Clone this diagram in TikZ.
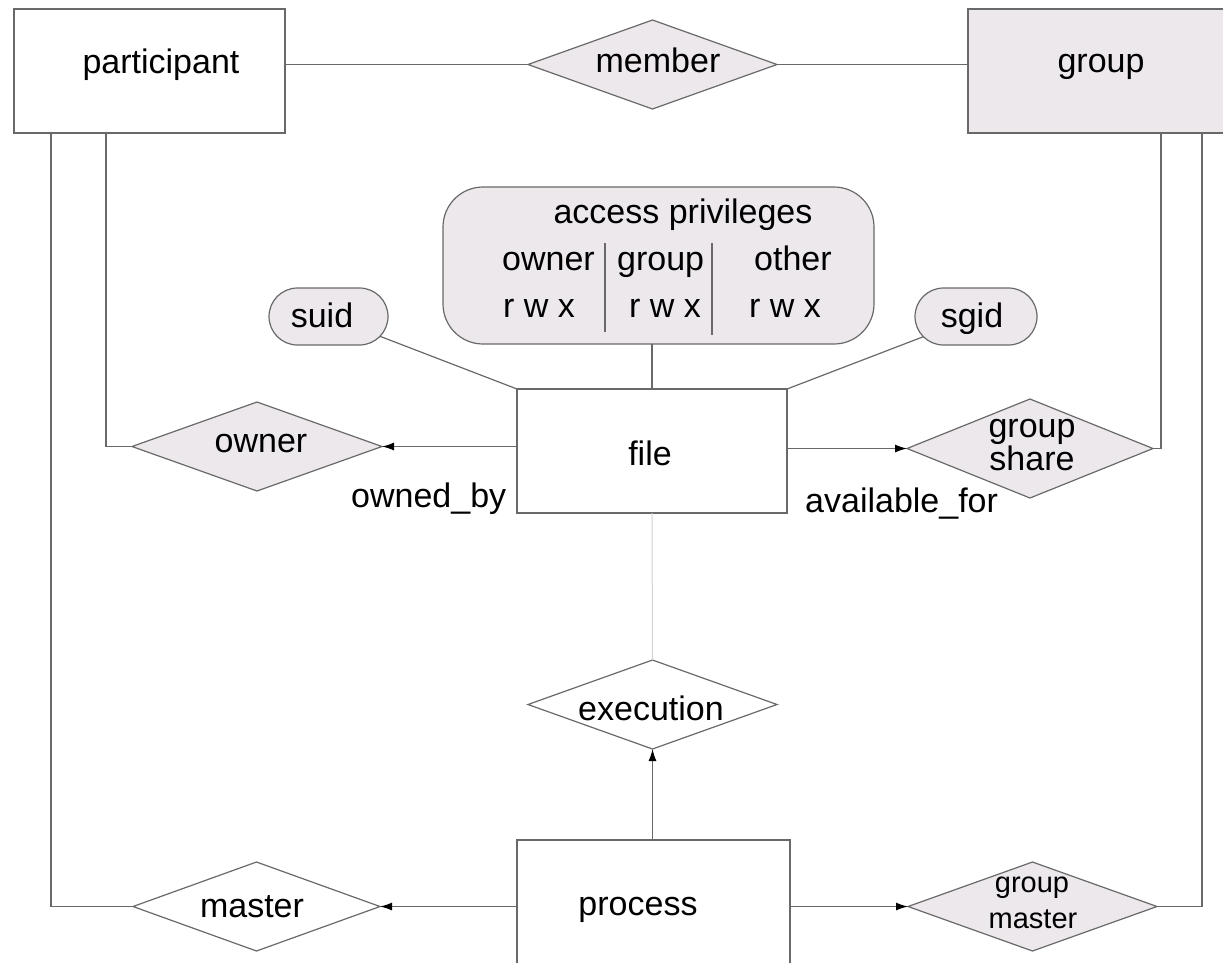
\documentclass[tikz,border=0pt]{standalone}
\usepackage{fontspec}
\setmainfont{Liberation Sans}
\usetikzlibrary{shapes.geometric,shapes.misc,arrows.meta}
\definecolor{edge}{RGB}{105,105,105}
\definecolor{shade}{RGB}{236,232,236}
\definecolor{faint}{RGB}{210,210,210}

\begin{document}
\begin{tikzpicture}[x=1pt,y=-1pt,
  frame/.style={draw=edge,line width=1.2pt,inner sep=0pt,outer sep=0pt},
  entity/.style={frame,rectangle,minimum width=#1},
  rel/.style={frame,diamond,minimum width=249pt,minimum height=89pt},
  pill/.style={frame,rounded rectangle,fill=shade,minimum height=57pt,minimum width=#1},
  txt/.style={inner sep=0pt,anchor=base,font=\fontsize{34}{34}\selectfont},
  small/.style={inner sep=0pt,anchor=base,font=\fontsize{29}{29}\selectfont},
  link/.style={draw=edge,line width=1.2pt},
  arr/.style={link,-{Latex[length=12pt,width=8pt,color=black]}},
  sep/.style={draw=edge,line width=1.2pt}
]
\useasboundingbox (0,0) rectangle (1223,962);

% entities
\node[entity=271pt,minimum height=124pt] (participant) at (149.5,71) {};
\node[entity=262pt,minimum height=124pt,fill=shade] (group) at (1099,71) {};
\node[entity=270pt,minimum height=124pt] (file) at (652,451) {};
\node[entity=273pt,minimum height=140pt] (process) at (653.5,910) {};

% relationships
\node[rel,fill=shade] (member) at (652.5,64.5) {};
\node[rel,fill=shade,minimum width=250pt] (owner) at (257,446.5) {};
\node[rel,fill=shade,minimum width=246pt,minimum height=99pt] (gshare) at (1030,448.5) {};
\node[rel,fill=white] (execution) at (652.5,704.5) {};
\node[rel,fill=white,minimum width=247pt] (master) at (256.5,906.5) {};
\node[rel,fill=shade] (gmaster) at (1032.5,906.5) {};

% attributes
\node[frame,rectangle,rounded corners=40pt,fill=shade,minimum width=431pt,minimum height=157pt] (access) at (658.5,265.5) {};
\node[pill=119pt] (suid) at (328.5,316.5) {};
\node[pill=122pt] (sgid) at (976,316.5) {};

% column separators of the privilege table
\draw[sep] (605,243) -- (605,332);
\draw[sep] (712,243) -- (712,335);

% labels
\node[txt] (participant-t) at (161,73) {participant};
\node[txt] (member-t) at (658,72) {member};
\node[txt] (group-t) at (1101,72) {group};
\node[txt] (access-t) at (683,223) {access privileges};
\node[txt,anchor=base west] (col-owner) at (502,270) {owner};
\node[txt,anchor=base west] (col-group) at (617,270) {group};
\node[txt,anchor=base west] (col-other) at (754,270) {other};
\node[txt,anchor=base west] (rwx-owner) at (503,317) {r w x};
\node[txt,anchor=base west] (rwx-group) at (629,317) {r w x};
\node[txt,anchor=base west] (rwx-other) at (749,317) {r w x};
\node[txt] (suid-t) at (322,327) {suid};
\node[txt] (sgid-t) at (972,327) {sgid};
\node[txt] (owner-t) at (261,452) {owner};
\node[txt] (file-t) at (650,465) {file};
\node[txt,anchor=base west] (ownedby) at (351,507) {owned\_by};
\node[txt,anchor=base west] (availfor) at (805,512) {available\_for};
\node[txt] (gshare-a) at (1032,437) {group};
\node[txt] (gshare-b) at (1032,470) {share};
\node[txt] (execution-t) at (651,720) {execution};
\node[txt] (master-t) at (252,917) {master};
\node[txt] (process-t) at (638,915) {process};
\node[small] (gmaster-a) at (1032,892) {group};
\node[small] (gmaster-b) at (1033,928) {master};

% connectors
\draw[link] (member.west) -- (member.west -| participant.east);
\draw[link] (member.east) -- (member.east -| group.west);
\draw[link] ([xshift=37pt]participant.south west) |- (master.west);
\draw[link] ([xshift=92pt]participant.south west) |- (owner.west);
\draw[link] ([xshift=193pt]group.south west) |- (gshare.east);
\draw[link] ([xshift=234pt]group.south west) |- (gmaster.east);
\draw[link] (file.north) -- (file.north |- access.south);
\draw[link] (suid) -- (file.north west);
\draw[link] (sgid) -- (file.north east);
\draw[arr] (file.west |- owner.east) -- (owner.east);
\draw[arr] (file.east |- gshare.west) -- (gshare.west);
\draw[draw=faint,line width=1pt] (file.south) -- (execution.north);
\draw[arr] (process.north -| execution.south) -- (execution.south);
\draw[arr] (process.west |- master.east) -- (master.east);
\draw[arr] (process.east |- gmaster.west) -- (gmaster.west);
\end{tikzpicture}
\end{document}
